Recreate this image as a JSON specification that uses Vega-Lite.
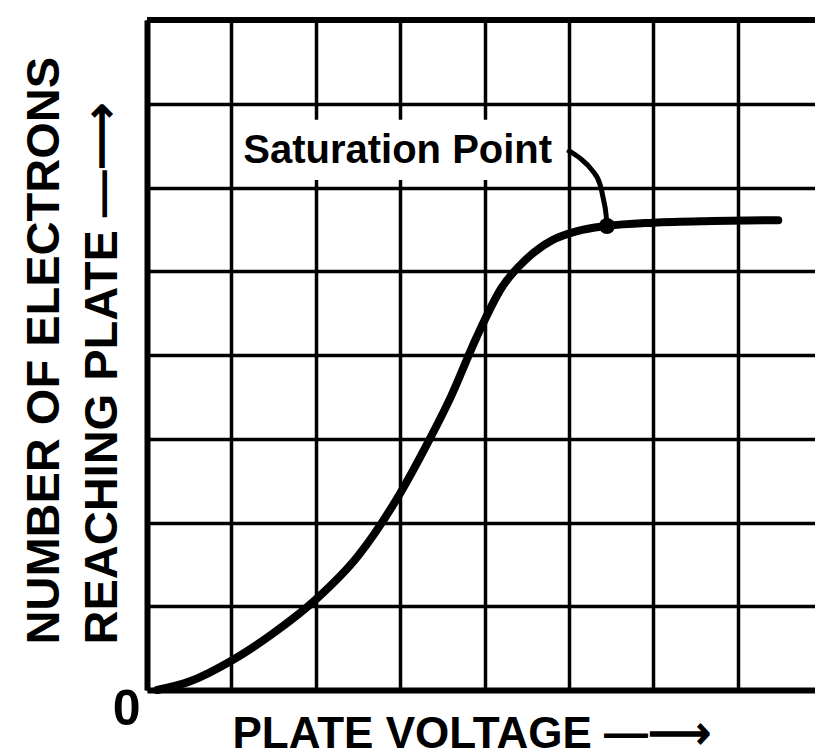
{
  "$schema": "https://vega.github.io/schema/vega-lite/v6.json",
  "width": 668,
  "height": 670,
  "autosize": {"type": "none"},
  "padding": {"left": 147, "top": 20, "right": 0, "bottom": 66},
  "background": "white",
  "config": {"view": {"stroke": null}, "font": "Liberation Sans"},
  "datasets": {
    "curve": [
      {"v": 0.12, "n": 0.0},
      {"v": 0.5, "n": 0.1},
      {"v": 1.0, "n": 0.35},
      {"v": 1.5, "n": 0.68},
      {"v": 2.0, "n": 1.08},
      {"v": 2.5, "n": 1.6},
      {"v": 3.0, "n": 2.35},
      {"v": 3.3, "n": 2.9},
      {"v": 3.6, "n": 3.5},
      {"v": 3.9, "n": 4.2},
      {"v": 4.2, "n": 4.8},
      {"v": 4.5, "n": 5.15},
      {"v": 4.8, "n": 5.37},
      {"v": 5.1, "n": 5.48},
      {"v": 5.45, "n": 5.54},
      {"v": 6.0, "n": 5.58},
      {"v": 6.7, "n": 5.6},
      {"v": 7.48, "n": 5.61}
    ],
    "leader": [
      {"v": 4.98, "n": 6.45},
      {"v": 5.13, "n": 6.35},
      {"v": 5.27, "n": 6.21},
      {"v": 5.37, "n": 6.03},
      {"v": 5.41, "n": 5.85},
      {"v": 5.44, "n": 5.67},
      {"v": 5.45, "n": 5.54}
    ],
    "box": [{"v": 1.08, "v2": 4.92, "n": 6.09, "n2": 6.81}],
    "note": [{"v": 2.97, "n": 6.29, "label": "Saturation Point"}],
    "sat": [{"v": 5.45, "n": 5.54}],
    "origin": [{"v": -0.24, "n": -0.24, "label": "0"}],
    "frame": [{"v": 0, "v2": 7.915, "n": 8}]
  },
  "encoding": {
    "x": {
      "field": "v",
      "type": "quantitative",
      "scale": {"domain": [0, 7.915], "nice": false, "zero": false},
      "axis": {
        "values": [0, 1, 2, 3, 4, 5, 6, 7],
        "grid": true,
        "gridColor": "black",
        "gridWidth": 3.5,
        "gridOpacity": 1,
        "domain": true,
        "domainColor": "black",
        "domainWidth": 6,
        "ticks": false,
        "labels": false,
        "title": "PLATE VOLTAGE —⟶",
        "titleFont": "Liberation Sans",
        "titleFontSize": 44,
        "titleFontWeight": "bold",
        "titleColor": "black",
        "titleAnchor": "start",
        "titleAlign": "left",
        "titleBaseline": "middle",
        "titleX": 85,
        "titleY": 44
      }
    },
    "y": {
      "field": "n",
      "type": "quantitative",
      "scale": {"domain": [0, 8], "nice": false, "zero": false},
      "axis": {
        "values": [0, 1, 2, 3, 4, 5, 6, 7, 8],
        "grid": true,
        "gridColor": "black",
        "gridWidth": 3.5,
        "gridOpacity": 1,
        "domain": true,
        "domainColor": "black",
        "domainWidth": 6,
        "ticks": false,
        "labels": false,
        "title": ["NUMBER OF ELECTRONS", "REACHING PLATE —⟶"],
        "titleFont": "Liberation Sans",
        "titleFontSize": 47,
        "titleFontWeight": "bold",
        "titleColor": "black",
        "titleAngle": -90,
        "titleAnchor": "start",
        "titleAlign": "left",
        "titleBaseline": "middle",
        "titleLineHeight": 58,
        "titleX": -103,
        "titleY": 624
      }
    }
  },
  "layer": [
    {
      "data": {"name": "curve"},
      "mark": {"type": "line", "color": "black", "strokeWidth": 8, "strokeCap": "round", "interpolate": "monotone"}
    },
    {
      "data": {"name": "box"},
      "mark": {"type": "rect", "color": "white", "opacity": 1},
      "encoding": {"x2": {"field": "v2"}, "y2": {"field": "n2"}}
    },
    {
      "data": {"name": "note"},
      "mark": {"type": "text", "font": "Liberation Sans", "fontSize": 40, "fontWeight": "bold", "color": "black", "align": "center", "baseline": "alphabetic"},
      "encoding": {"text": {"field": "label"}}
    },
    {
      "data": {"name": "leader"},
      "mark": {"type": "line", "color": "black", "strokeWidth": 5, "interpolate": "monotone"}
    },
    {
      "data": {"name": "sat"},
      "mark": {"type": "point", "filled": true, "color": "black", "opacity": 1, "size": 260}
    },
    {
      "data": {"name": "origin"},
      "mark": {"type": "text", "font": "Liberation Sans", "fontSize": 50, "fontWeight": "bold", "color": "black", "align": "center", "baseline": "middle", "clip": false},
      "encoding": {"text": {"field": "label"}}
    },
    {
      "data": {"name": "frame"},
      "mark": {"type": "rule", "color": "black", "strokeWidth": 6},
      "encoding": {"x2": {"field": "v2"}}
    }
  ]
}
